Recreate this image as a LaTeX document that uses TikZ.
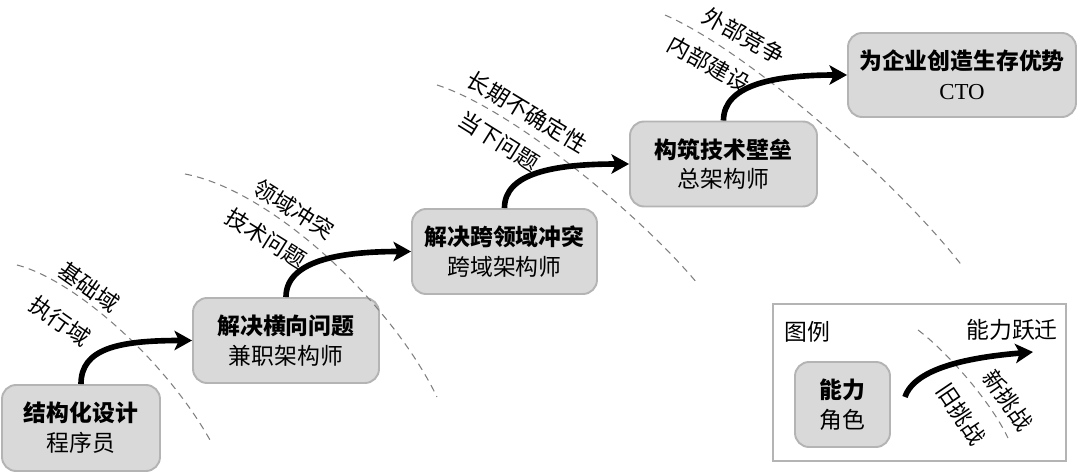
\documentclass[tikz,border=0pt]{standalone}
\usepackage{fontspec}
\setmainfont{Noto Sans CJK SC}
\newfontfamily\ctofont{Liberation Serif}
\usetikzlibrary{arrows.meta}

\definecolor{boxfill}{HTML}{D9D9D9}
\definecolor{boxline}{HTML}{B4B4B4}
\definecolor{arcline}{HTML}{7F7F7F}

\tikzset{
	role/.style={rectangle,rounded corners=8pt,draw=boxline,fill=boxfill,line width=1.1pt,
		align=center,minimum height=1.7cm,inner sep=2pt,font=\fontsize{13}{17}\selectfont},
	leap/.style={line width=3.2pt,-{Stealth[length=10pt,width=11pt,inset=2.5pt]}},
	divide/.style={draw=arcline,line width=0.6pt,dash pattern=on 4pt off 3pt},
	tag/.style={inner sep=0pt,font=\fontsize{12.8}{14}\selectfont},
	legendtext/.style={inner sep=0pt,font=\fontsize{13}{15}\selectfont}
}

\begin{document}
\begin{tikzpicture}[x=0.02cm,y=-0.02cm]
	\useasboundingbox (0,0) rectangle (1080,473);
	% roles
	\draw (81,428)      node[role,minimum width=3.16cm,minimum height=1.72cm] (coder) {\textbf{结构化设计}\\程序员};
	\draw (286,340.5)   node[role,minimum width=3.72cm] (parttime) {\textbf{解决横向问题}\\兼职架构师};
	\draw (504.5,251.5) node[role,minimum width=3.70cm] (crossdom) {\textbf{解决跨领域冲突}\\跨域架构师};
	\draw (723.5,164)   node[role,minimum width=3.74cm] (chief)    {\textbf{构筑技术壁垒}\\总架构师};
	\draw (962,75)      node[role,minimum width=4.56cm,minimum height=1.68cm] (cto) {\textbf{为企业创造生存优势}\\{\ctofont CTO}};
	% dashed borders
	\coordinate (b1s) at (17,265);  \coordinate (b1e) at (210,440);
	\coordinate (b2s) at (185,174); \coordinate (b2e) at (437,397);
	\coordinate (b3s) at (437,85);  \coordinate (b3e) at (697,283);
	\coordinate (b4s) at (665,15);  \coordinate (b4e) at (963,267);
	\draw[divide] (b1s) .. controls (75,280) and (165,360) .. (b1e);
	\draw[divide] (b2s) .. controls (270,190) and (390,300) .. (b2e);
	\draw[divide] (b3s) .. controls (515,110) and (645,220) .. (b3e);
	\draw[divide] (b4s) .. controls (750,52) and (900,185) .. (b4e);
	% border labels
	\draw (89,287)  node[tag,rotate=-35] (basic)    {基础域};
	\draw (60,321)  node[tag,rotate=-35] (execute)  {执行域};
	\draw (294,209) node[tag,rotate=-32] (conflict) {领域冲突};
	\draw (266,238) node[tag,rotate=-32] (techprob) {技术问题};
	\draw (527,112) node[tag,rotate=-31] (longterm) {长期不确定性};
	\draw (499,141) node[tag,rotate=-32] (present)  {当下问题};
	\draw (744,36)  node[tag,rotate=-29] (outer)    {外部竞争};
	\draw (709,64)  node[tag,rotate=-29] (inner)    {内部建设};
	% leaps
	\draw[leap] (coder.north)    .. controls +(0,-35) and +(-75,0) .. (parttime.west);
	\draw[leap] (parttime.north) .. controls +(0,-35) and +(-75,0) .. (crossdom.west);
	\draw[leap] (crossdom.north) .. controls +(0,-35) and +(-75,0) .. (chief.west);
	\draw[leap] (chief.north)    .. controls +(0,-35) and +(-75,0) .. (cto.west);
	% legend
	\draw[boxline,line width=1.1pt] (773,304) rectangle (1066,461);
	\draw (807,332)  node[legendtext] (legtitle) {图例};
	\draw (1012,330) node[legendtext] (legleap)  {能力跃迁};
	\draw (842.5,404.5) node[role,minimum width=1.9cm] (legrole) {\textbf{能力}\\角色};
	\coordinate (ls) at (918,330); \coordinate (le) at (1008,438);
	\draw[divide] (ls) .. controls (945,350) and (990,400) .. (le);
	\coordinate (js) at (905,397); \coordinate (je) at (1033,352);
	\draw[leap] (js) .. controls +(10,-30) and +(-60,5) .. (je);
	\draw (1008,400) node[tag,rotate=-55] (newchal) {新挑战};
	\draw (961,414)  node[tag,rotate=-56] (oldchal) {旧挑战};
\end{tikzpicture}
\end{document}
